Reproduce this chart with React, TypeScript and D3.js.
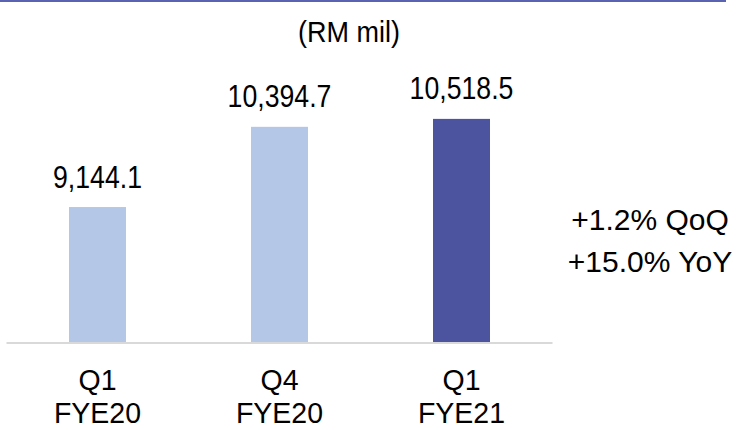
import React from "react";
import * as d3 from "d3";

// Quarterly revenue, RM million
const quarters = ["Q1", "Q4", "Q1"];
const fiscalYears = ["FYE20", "FYE20", "FYE21"];
const revenue = [9144.1, 10394.7, 10518.5];
const barColors = ["#b4c7e7", "#b4c7e7", "#4c54a0"];
const growthNotes = ["+1.2% QoQ", "+15.0% YoY"];
const unitLabel = "(RM mil)";

const W = 736;
const H = 430;
const FONT = "'Liberation Sans', Arial, sans-serif";

// Label drawn in a regular sans, optionally squeezed horizontally around its anchor
function Label({
  x,
  y,
  size = 30,
  squeeze = 1,
  children,
}: {
  x: number;
  y: number;
  size?: number;
  squeeze?: number;
  children: React.ReactNode;
}) {
  return (
    <text
      transform={`translate(${x},${y}) scale(${squeeze},1)`}
      fontSize={size}
      textAnchor="middle"
      fill="#000"
    >
      {children}
    </text>
  );
}

export default function App() {
  const keys = quarters.map((q, i) => `${q} ${fiscalYears[i]}`);

  const x = d3
    .scaleBand<string>()
    .domain(keys)
    .range([6.5, 552.5])
    .paddingInner(0.6868)
    .paddingOuter(0.3434);

  const baseY = 342;
  const y = d3.scaleLinear().domain([7040, 11000]).range([baseY, 88]);
  const fmt = d3.format(",.1f");

  return (
    <svg
      width={W}
      height={H}
      viewBox={`0 0 ${W} ${H}`}
      style={{ position: "absolute", left: 0, top: 0, background: "#fff" }}
      fontFamily={FONT}
    >
      {/* top rule */}
      <line x1={0} x2={726} y1={1} y2={1} stroke="#5a62b2" strokeWidth={2} />

      <Label x={349} y={42} squeeze={0.9}>{unitLabel}</Label>

      {revenue.map((v, i) => {
        const bx = x(keys[i]) ?? 0;
        const bw = x.bandwidth();
        const cx = bx + bw / 2;
        const top = y(v);
        return (
          <g key={keys[i]}>
            <rect x={bx} y={top} width={bw} height={baseY - top} fill={barColors[i]} />
            <Label x={cx} y={top - 19.5} size={31} squeeze={0.86}>{fmt(v)}</Label>
            <Label x={cx} y={390} squeeze={0.95}>{quarters[i]}</Label>
            <Label x={cx} y={423} squeeze={0.95}>{fiscalYears[i]}</Label>
          </g>
        );
      })}

      {/* baseline */}
      <line
        x1={x.range()[0]}
        x2={x.range()[1]}
        y1={baseY + 1}
        y2={baseY + 1}
        stroke="#d9d9d9"
        strokeWidth={2}
      />

      {growthNotes.map((t, i) => (
        <Label key={t} x={650} y={230 + i * 42}>{t}</Label>
      ))}
    </svg>
  );
}
